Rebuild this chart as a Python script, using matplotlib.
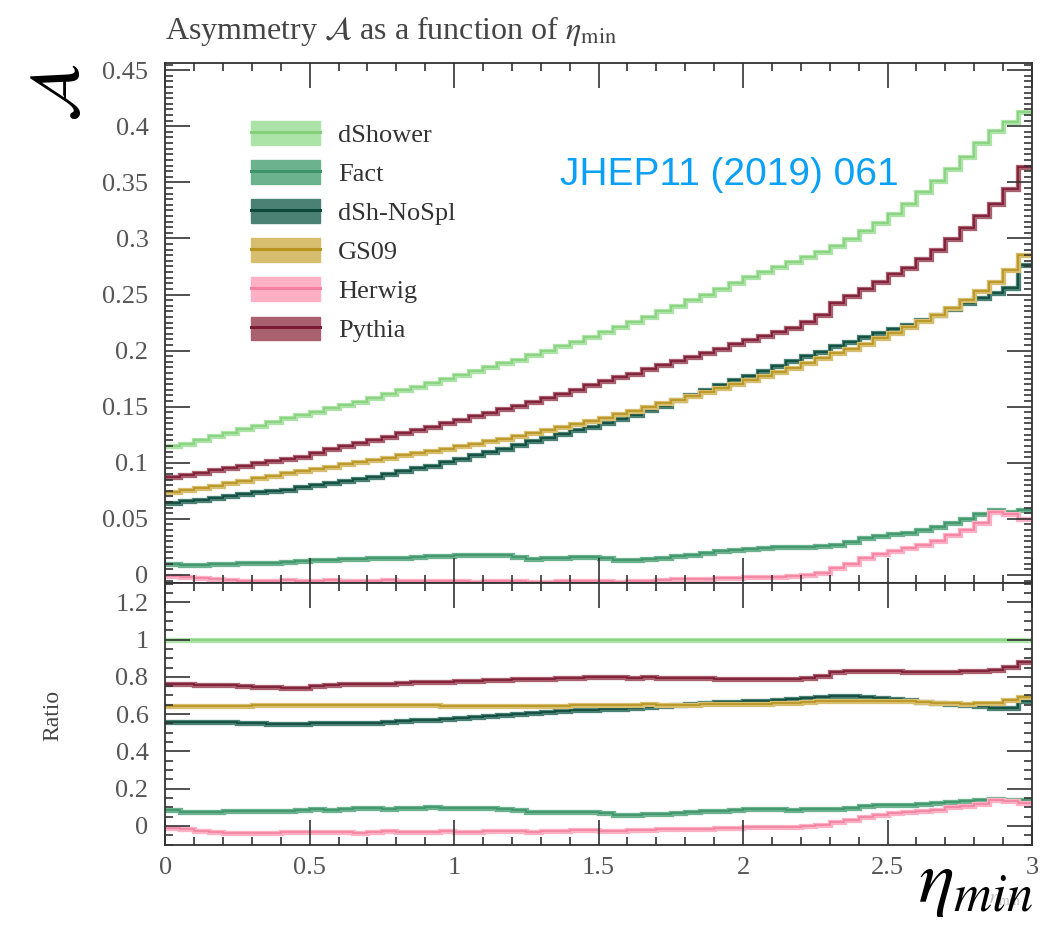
import matplotlib.pyplot as plt
import numpy as np
from matplotlib.lines import Line2D
from matplotlib.patches import Patch
from matplotlib.ticker import MultipleLocator

plt.rcParams['font.family'] = ['Liberation Serif', 'DejaVu Serif']
plt.rcParams['mathtext.fontset'] = 'stix'

# 60 bins in eta_min from 0 to 3
edges = np.linspace(0, 3, 61)

dshower = [0.1145, 0.1170, 0.1200, 0.1235, 0.1265, 0.1300, 0.1330, 0.1365, 0.1395, 0.1425,
           0.1455, 0.1485, 0.1515, 0.1545, 0.1580, 0.1610, 0.1645, 0.1675, 0.1710, 0.1745,
           0.1780, 0.1815, 0.1850, 0.1885, 0.1920, 0.1960, 0.2000, 0.2040, 0.2080, 0.2120,
           0.2165, 0.2210, 0.2255, 0.2300, 0.2350, 0.2400, 0.2450, 0.2500, 0.2550, 0.2605,
           0.2655, 0.2700, 0.2745, 0.2790, 0.2835, 0.2880, 0.2935, 0.2995, 0.3065, 0.3140,
           0.3220, 0.3310, 0.3410, 0.3510, 0.3620, 0.3730, 0.3850, 0.3960, 0.4040, 0.4130]

fact = [0.0100, 0.0090, 0.0090, 0.0095, 0.0100, 0.0105, 0.0105, 0.0110, 0.0115, 0.0125,
        0.0130, 0.0130, 0.0140, 0.0145, 0.0150, 0.0150, 0.0155, 0.0160, 0.0170, 0.0170,
        0.0175, 0.0175, 0.0180, 0.0175, 0.0160, 0.0145, 0.0150, 0.0155, 0.0160, 0.0160,
        0.0150, 0.0135, 0.0135, 0.0145, 0.0155, 0.0165, 0.0180, 0.0195, 0.0210, 0.0225,
        0.0235, 0.0240, 0.0245, 0.0245, 0.0250, 0.0255, 0.0265, 0.0290, 0.0325, 0.0345,
        0.0365, 0.0375, 0.0400, 0.0430, 0.0460, 0.0500, 0.0540, 0.0580, 0.0560, 0.0580]

nospl = [0.0640, 0.0655, 0.0670, 0.0690, 0.0705, 0.0720, 0.0735, 0.0750, 0.0760, 0.0780,
         0.0800, 0.0820, 0.0835, 0.0855, 0.0875, 0.0900, 0.0925, 0.0950, 0.0975, 0.1005,
         0.1035, 0.1065, 0.1095, 0.1125, 0.1155, 0.1190, 0.1225, 0.1255, 0.1290, 0.1320,
         0.1355, 0.1390, 0.1430, 0.1470, 0.1510, 0.1555, 0.1600, 0.1645, 0.1690, 0.1735,
         0.1775, 0.1815, 0.1860, 0.1905, 0.1950, 0.1990, 0.2040, 0.2080, 0.2120, 0.2155,
         0.2190, 0.2230, 0.2275, 0.2320, 0.2370, 0.2420, 0.2470, 0.2510, 0.2560, 0.2760]

gs09 = [0.0735, 0.0755, 0.0775, 0.0795, 0.0815, 0.0835, 0.0865, 0.0885, 0.0905, 0.0925,
        0.0945, 0.0965, 0.0985, 0.1005, 0.1025, 0.1045, 0.1065, 0.1085, 0.1105, 0.1125,
        0.1150, 0.1170, 0.1195, 0.1215, 0.1240, 0.1265, 0.1290, 0.1315, 0.1345, 0.1370,
        0.1400, 0.1435, 0.1465, 0.1500, 0.1530, 0.1560, 0.1595, 0.1630, 0.1665, 0.1700,
        0.1735, 0.1770, 0.1805, 0.1845, 0.1885, 0.1930, 0.1975, 0.2015, 0.2060, 0.2110,
        0.2160, 0.2210, 0.2260, 0.2320, 0.2380, 0.2450, 0.2530, 0.2610, 0.2720, 0.2850]

herwig = [-0.0010, -0.0020, -0.0030, -0.0040, -0.0045, -0.0050, -0.0050, -0.0050, -0.0045, -0.0050,
          -0.0050, -0.0045, -0.0050, -0.0055, -0.0050, -0.0045, -0.0050, -0.0055, -0.0055, -0.0050,
          -0.0055, -0.0060, -0.0055, -0.0050, -0.0055, -0.0060, -0.0060, -0.0055, -0.0050, -0.0050,
          -0.0055, -0.0060, -0.0055, -0.0050, -0.0045, -0.0040, -0.0040, -0.0035, -0.0030, -0.0025,
          -0.0020, -0.0015, -0.0015, -0.0010, 0.0000, 0.0020, 0.0060, 0.0100, 0.0150, 0.0190,
          0.0215, 0.0240, 0.0270, 0.0300, 0.0360, 0.0400, 0.0460, 0.0560, 0.0540, 0.0500]

pythia = [0.0870, 0.0890, 0.0910, 0.0935, 0.0955, 0.0975, 0.0995, 0.1015, 0.1035, 0.1055,
          0.1090, 0.1125, 0.1150, 0.1175, 0.1205, 0.1230, 0.1265, 0.1290, 0.1320, 0.1350,
          0.1380, 0.1415, 0.1445, 0.1475, 0.1510, 0.1545, 0.1580, 0.1615, 0.1650, 0.1690,
          0.1725, 0.1765, 0.1795, 0.1835, 0.1870, 0.1905, 0.1940, 0.1980, 0.2015, 0.2055,
          0.2095, 0.2130, 0.2165, 0.2205, 0.2255, 0.2320, 0.2425, 0.2485, 0.2545, 0.2610,
          0.2680, 0.2740, 0.2815, 0.2895, 0.2995, 0.3095, 0.3200, 0.3310, 0.3440, 0.3635]

labels = ['dShower', 'Fact', 'dSh-NoSpl', 'GS09', 'Herwig', 'Pythia']
series = [dshower, fact, nospl, gs09, herwig, pythia]
band_colors = ['#ace3a6', '#6db28f', '#4b8075', '#d7bd6e', '#ffb0c4', '#a9606f']
line_colors = ['#86d07c', '#3d9468', '#0d4a3c', '#b8941f', '#f4809f', '#7d1a35']

fig = plt.figure(figsize=(10.52, 9.25), dpi=100)
ax = fig.add_axes([0.157, 0.370, 0.824, 0.562])
rax = fig.add_axes([0.157, 0.087, 0.824, 0.283], sharex=ax)

ref = np.array(dshower)
for vals, bc, lc in zip(series, band_colors, line_colors):
    vals = np.array(vals)
    ax.stairs(vals, edges, color=bc, lw=3.8, baseline=None)
    ax.stairs(vals, edges, color=lc, lw=1.2, baseline=None)
    ratio = vals / ref
    rax.stairs(ratio, edges, color=bc, lw=3.8, baseline=None)
    rax.stairs(ratio, edges, color=lc, lw=1.2, baseline=None)

ax.set_xlim(0, 3)
ax.set_ylim(-0.007, 0.4565)
rax.set_ylim(-0.1, 1.305)

tick_col = '#333333'
for a in (ax, rax):
    a.tick_params(which='both', direction='in', top=True, right=True,
                  color=tick_col, labelcolor='#555555', labelsize=19)
    a.tick_params(which='major', length=18, width=1.2)
    a.tick_params(which='minor', length=6, width=1.2)
    a.tick_params(axis='y', pad=12)
    a.xaxis.set_major_locator(MultipleLocator(0.5))
    a.xaxis.set_minor_locator(MultipleLocator(0.1))
    for s in a.spines.values():
        s.set_linewidth(1.3)
        s.set_color(tick_col)

ax.yaxis.set_major_locator(MultipleLocator(0.05))
ax.yaxis.set_minor_locator(MultipleLocator(0.005))
rax.yaxis.set_major_locator(MultipleLocator(0.2))
rax.yaxis.set_minor_locator(MultipleLocator(0.05))
ax.tick_params(labelbottom=False)
ax.yaxis.set_major_formatter(lambda v, p: f'{v:g}')
rax.yaxis.set_major_formatter(lambda v, p: f'{v:g}')
rax.xaxis.set_major_formatter(lambda v, p: f'{v:g}')
rax.tick_params(axis='x', pad=9)

handles = [(Patch(facecolor=bc, edgecolor=bc), Line2D([], [], color=lc, lw=2.2))
           for bc, lc in zip(band_colors, line_colors)]
ax.legend(handles, labels, loc='upper left', bbox_to_anchor=(0.084, 0.913),
          frameon=False, fontsize=19, handlelength=2.6, handleheight=1.0,
          labelspacing=0.5, handletextpad=0.7, borderpad=0, labelcolor='#333333')

fig.text(0.157, 0.966, r'Asymmetry $\mathcal{A}$ as a function of $\eta_{\rm min}$',
         fontsize=23, color='#444444', va='center', ha='left')
fig.text(0.058, 0.9, r'$\mathcal{A}$', fontsize=50, color='black', rotation=90,
         ha='center', va='center')
fig.text(0.05, 0.227, 'Ratio', fontsize=17, color='#444444', rotation=90,
         ha='center', va='center')
fig.text(0.955, 0.026, r'$\eta_{\rm min}$', fontsize=14, color='#bbbbbb', ha='center', va='center')
fig.text(0.982, 0.006, r'$\eta_{min}$', fontsize=54, color='black', ha='right', va='bottom')

ax.text(0.455, 0.785, 'JHEP11 (2019) 061', transform=ax.transAxes, color='#0aa0f5',
        fontsize=28, family=['Liberation Sans', 'DejaVu Sans'], ha='left', va='center')

fig.savefig('out.png', dpi=100)
